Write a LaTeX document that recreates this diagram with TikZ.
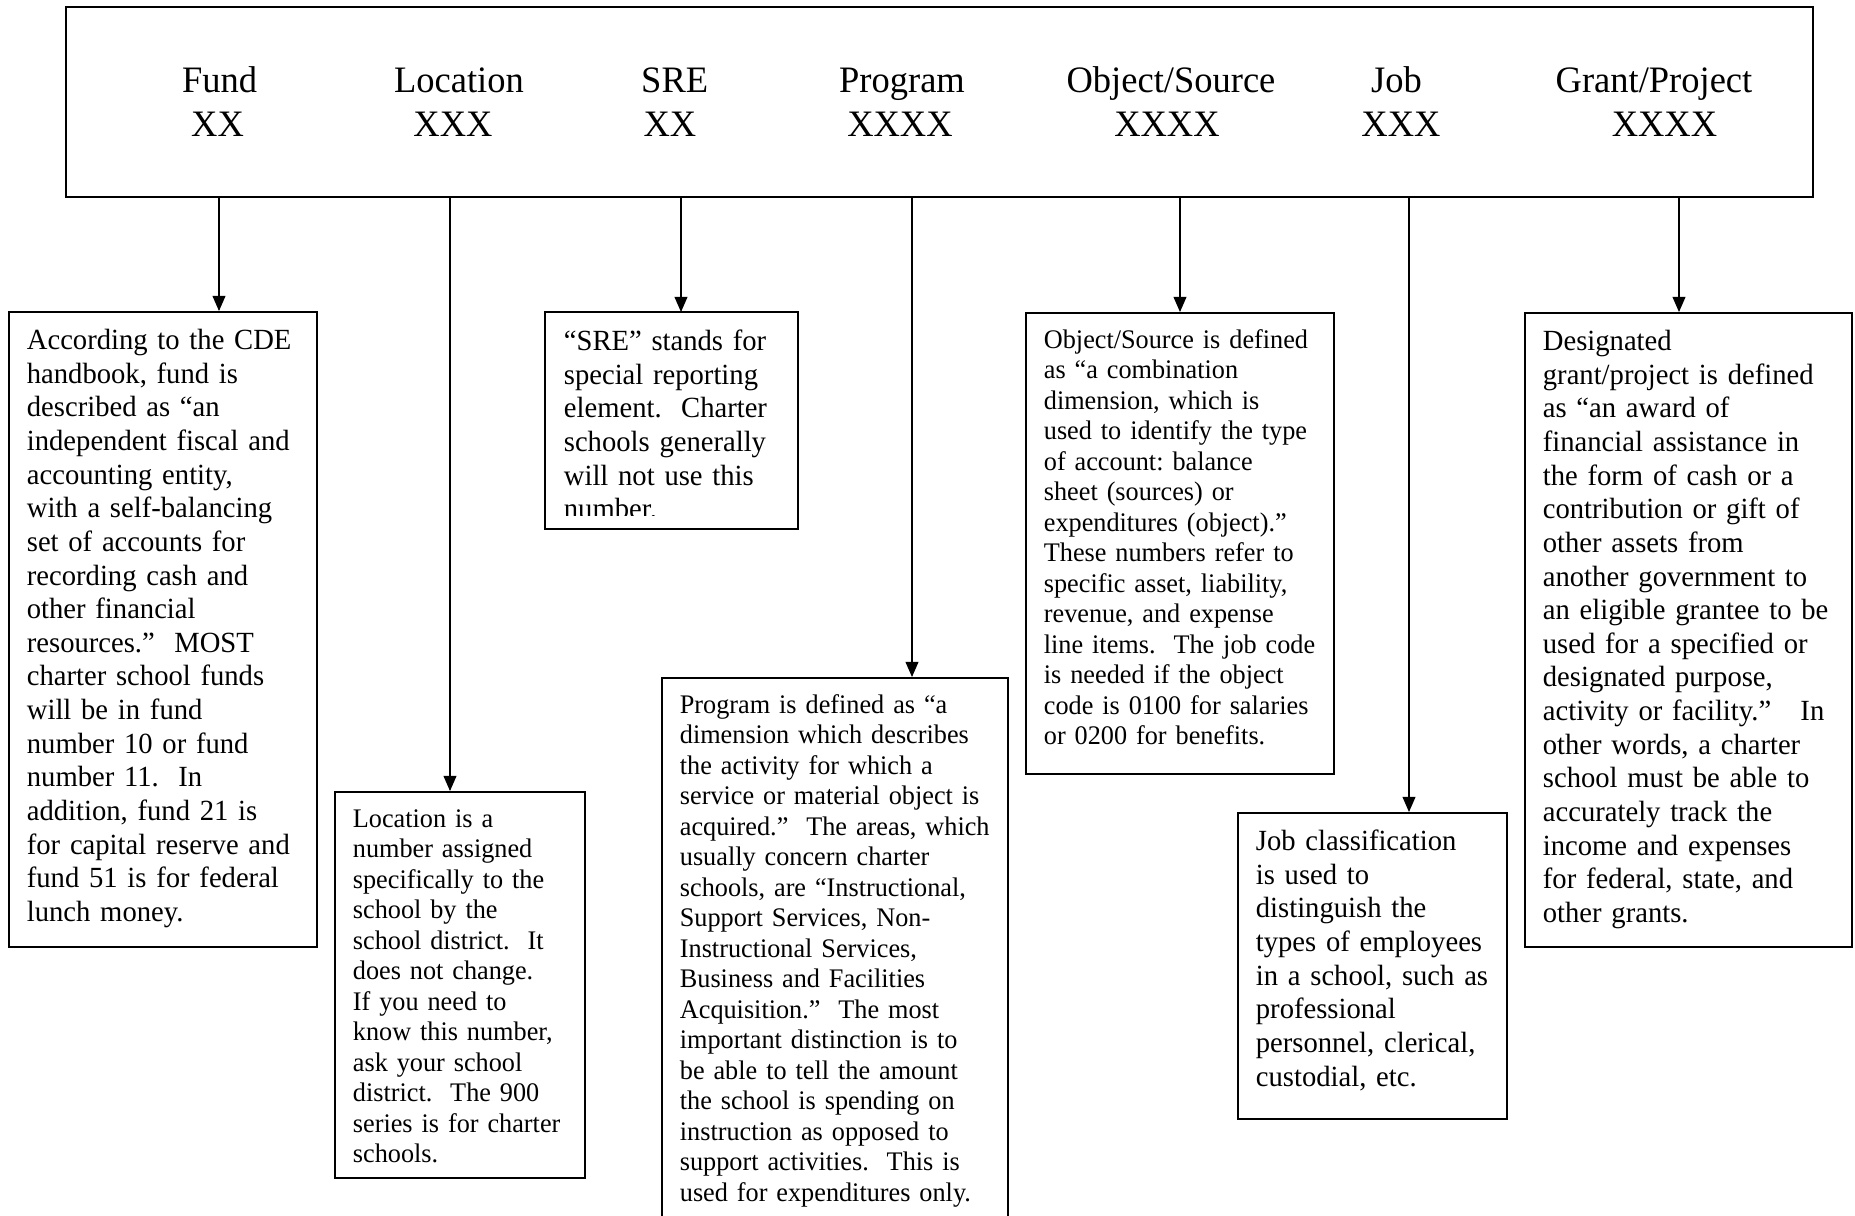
\documentclass[tikz,border=0pt]{standalone}
\usepackage{fontspec}
\setmainfont{Liberation Serif}[FakeStretch=0.978]
\usetikzlibrary{positioning,arrows.meta}

\begin{document}
\begin{tikzpicture}[x=0.41pt, y=-0.41pt,
    boxline/.style={draw, line width=0.7pt},
    notebox/.style={boxline, anchor=north west, align=left, inner xsep=7.4pt, inner ysep=0pt},
    notebig/.style={notebox, font=\fontsize{12}{13.8}\selectfont\frenchspacing, text height=15.4pt},
    notesmall/.style={notebox, font=\fontsize{11}{12.5}\selectfont\frenchspacing, text height=14.6pt},
    head/.style={anchor=base, inner sep=0pt, font=\fontsize{15.3}{18}\selectfont},
    arr/.style={-{Triangle[length=6.2pt,width=5.3pt]}, line width=0.45pt}]

\path[fill=white, use as bounding box] (0,0) rectangle (1855,1216);
\clip (0,0) rectangle (1855,1216);

% account code bar
\node[boxline, anchor=north west, minimum width=716.3pt, minimum height=77.9pt, inner sep=0pt] (acct) at (65,6) {};

\node[head] (fundlbl) at (219.6,93) {Fund};
\node[head] (fundcode) at (217.6,137) {XX};
\node[head] (loclbl) at (459,93) {Location};
\node[head] (loccode) at (453,137) {XXX};
\node[head] (srelbl) at (674.7,93) {SRE};
\node[head] (srecode) at (670,137) {XX};
\node[head] (prglbl) at (902,93) {Program};
\node[head] (prgcode) at (900,137) {XXXX};
\node[head] (objlbl) at (1171,93) {Object/Source};
\node[head] (objcode) at (1167,137) {XXXX};
\node[head] (joblbl) at (1396.5,93) {Job};
\node[head] (jobcode) at (1401,137) {XXX};
\node[head] (grtlbl) at (1654,93) {Grant/Project};
\node[head] (grtcode) at (1664.5,137) {XXXX};

% explanation boxes
\node[notebig, text width=111.5pt, text depth=244.9pt] (fundbox) at (8,311)
  {According to the CDE\\ handbook, fund is\\ described as “an\\ independent fiscal and\\
   accounting entity,\\ with a self-balancing\\ set of accounts for\\ recording cash and\\
   other financial\\ resources.”\ \ MOST\\ charter school funds\\ will be in fund\\
   number 10 or fund\\ number 11.\ \ In\\ addition, fund 21 is\\ for capital reserve and\\
   fund 51 is for federal\\ lunch money.};

\node[notesmall, text width=87.7pt, text depth=143.7pt] (locbox) at (334,791)
  {Location is a\\ number assigned\\ specifically to the\\ school by the\\
   school district.\ \ It\\ does not change.\\ If you need to\\ know this number,\\
   ask your school\\ district.\ \ The 900\\ series is for charter\\ schools.};

\begin{scope}
  \clip (540,300) rectangle (800,516);
  \node[notebig, draw=none, text width=88.15pt, text depth=72.75pt] (srebox) at (545,312)
    {“SRE” stands for\\ special reporting\\ element.\ \ Charter\\ schools generally\\
     will not use this\\ number.};
\end{scope}
\draw[boxline] (srebox.north west) rectangle (srebox.south east);

\node[notesmall, text width=127.1pt, text depth=219.1pt] (prgbox) at (661,677)
  {Program is defined as “a\\ dimension which describes\\ the activity for which a\\
   service or material object is\\ acquired.”\ \ The areas, which\\ usually concern charter\\
   schools, are “Instructional,\\ Support Services, Non-\\ Instructional Services,\\
   Business and Facilities\\ Acquisition.”\ \ The most\\ important distinction is to\\
   be able to tell the amount\\ the school is spending on\\ instruction as opposed to\\
   support activities.\ \ This is\\ used for expenditures only.};

\node[notesmall, text width=111.5pt, text depth=174.4pt] (objbox) at (1025,312)
  {Object/Source is defined\\ as “a combination\\ dimension, which is\\
   used to identify the type\\ of account: balance\\ sheet (sources) or\\
   expenditures (object).”\\ These numbers refer to\\ specific asset, liability,\\
   revenue, and expense\\ line items.\ \ The job code\\ is needed if the object\\
   code is 0100 for salaries\\ or 0200 for benefits.};

\node[notebig, text width=95.5pt, text depth=110.1pt] (jobbox) at (1237,812)
  {Job classification\\ is used to\\ distinguish the\\ types of employees\\
   in a school, such as\\ professional\\ personnel, clerical,\\ custodial, etc.};

\node[notebig, text width=119.3pt, text depth=244.5pt] (grtbox) at (1524,312)
  {Designated\\ grant/project is defined\\ as “an award of\\ financial assistance in\\
   the form of cash or a\\ contribution or gift of\\ other assets from\\
   another government to\\ an eligible grantee to be\\ used for a specified or\\
   designated purpose,\\ activity or facility.”\ \ \ In\\ other words, a charter\\
   school must be able to\\ accurately track the\\ income and expenses\\
   for federal, state, and\\ other grants.};

% arrows
\coordinate (fundx) at (219,0);
\coordinate (locx) at (450,0);
\coordinate (srex) at (681,0);
\coordinate (prgx) at (912,0);
\coordinate (objx) at (1180,0);
\coordinate (jobx) at (1409,0);
\coordinate (grtx) at (1679,0);

\draw[arr] (acct.south -| fundx) -- (fundbox.north -| fundx);
\draw[arr] (acct.south -| locx) -- (locbox.north -| locx);
\draw[arr] (acct.south -| srex) -- (srebox.north -| srex);
\draw[arr] (acct.south -| prgx) -- (prgbox.north -| prgx);
\draw[arr] (acct.south -| objx) -- (objbox.north -| objx);
\draw[arr] (acct.south -| jobx) -- (jobbox.north -| jobx);
\draw[arr] (acct.south -| grtx) -- (grtbox.north -| grtx);

\end{tikzpicture}
\end{document}
